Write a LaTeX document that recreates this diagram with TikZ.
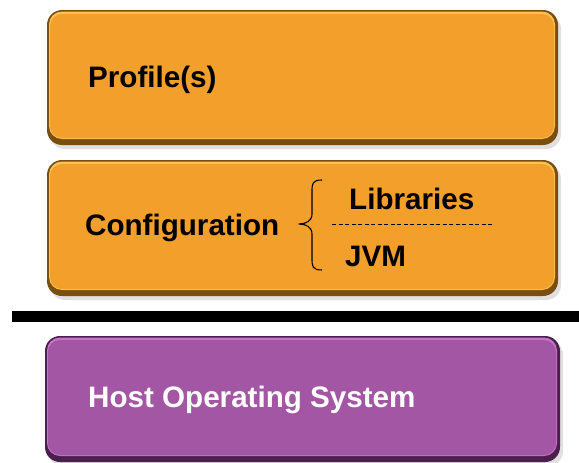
\documentclass[tikz,border=0pt]{standalone}
\usepackage{fontspec}
\setmainfont{Liberation Sans}
\usetikzlibrary{calc}
\definecolor{orangefill}{HTML}{F29F2C}
\definecolor{orangeedge}{HTML}{7A4E0E}
\definecolor{orangelight}{HTML}{F8C255}
\definecolor{purplefill}{HTML}{A256A4}
\definecolor{purpleedge}{HTML}{4A1F4E}
\definecolor{purplelight}{HTML}{C872C8}
\tikzset{
  x=1pt, y=-1pt,
  layertext/.style={font=\bfseries\fontsize{29.6}{32}\selectfont, inner sep=0pt, anchor=west},
}
% a raised rounded panel: dark rim, light top edge, flat face
\newcommand{\panel}[6]{% name, x1, y1, x2, y2, colour prefix
  \fill[black!12, rounded corners=15pt] (#2+3,#3+4) rectangle (#4+3,#5+4);
  \fill[#6edge, rounded corners=15pt] (#2,#3) rectangle (#4,#5);
  \fill[#6light, rounded corners=13pt] (#2+2,#3+1.5) rectangle (#4-3,#5-6);
  \fill[#6fill, rounded corners=12pt] (#2+3,#3+4) rectangle (#4-4,#5-7);
  \path (#2,#3) rectangle (#4,#5) coordinate[pos=0.5] (#1);
}
\begin{document}
\begin{tikzpicture}
\useasboundingbox (0,0) rectangle (579,463);
\fill[white] (0,0) rectangle (579,463);

% profile layer
\panel{profile}{47}{10}{558}{145}{orange}
\node[layertext] (proftext) at (88,80) {Profile(s)};

% configuration layer
\panel{config}{47}{160}{558}{296}{orange}
\node[layertext] (conftext) at (85,228) {Configuration};
\node[layertext] (libtext) at (349,199) {Libraries};
\node[layertext] (jvmtext) at (345,256) {JVM};
\draw[dash pattern=on 4pt off 2.5pt, line width=0.8pt] (332,224) -- (492,224);
% curly brace grouping the two parts
\draw[line width=1.1pt, line join=round]
  (322,180) .. controls (312,180) and (312,184) .. (312,192)
  -- (312,214) .. controls (312,221) and (306,224) .. (299,224)
  .. controls (306,224) and (312,227) .. (312,234)
  -- (312,258) .. controls (312,266) and (312,270) .. (322,270);

% separator bar
\fill[black] (12,311) rectangle (579,322);

% host layer
\panel{host}{45}{336}{560}{462}{purple}
\node[layertext, text=white] (hosttext) at (88,400) {Host Operating System};
\end{tikzpicture}
\end{document}
